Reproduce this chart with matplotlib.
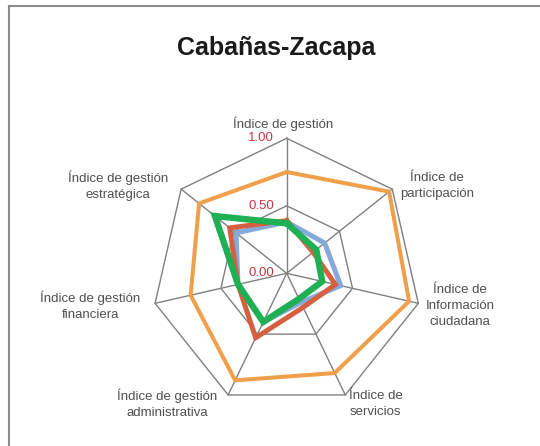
import numpy as np
import matplotlib
matplotlib.use("Agg")
import matplotlib.pyplot as plt
from matplotlib.lines import Line2D

plt.rcParams['font.family'] = ['Liberation Sans', 'DejaVu Sans']

# --- data ---
categories = [
    'Índice de gestión',
    'Índice de\nparticipación',
    'Índice de\nInformación\nciudadana',
    'Índice de\nservicios',
    'Índice de gestión\nadministrativa',
    'Índice de gestión\nfinanciera',
    'Índice de gestión\nestratégica',
]
orange_vals = [0.75, 0.97, 0.93, 0.82, 0.88, 0.73, 0.83]
blue_vals = [0.38, 0.36, 0.41, 0.24, 0.40, 0.37, 0.48]
red_vals = [0.39, 0.25, 0.37, 0.28, 0.53, 0.37, 0.54]
green_vals = [0.37, 0.28, 0.27, 0.21, 0.40, 0.37, 0.68]
ring_levels = [0.0, 0.5, 1.0]
ring_labels = ['0.00', '0.50', '1.00']

# label offsets (points) from each outer vertex
label_offsets = [(-2.7, 10.3), (32, 2.3), (30, -1.9), (22, -6.2),
                 (-44, -6.2), (-46.5, -1.9), (-45.4, 2.3)]

n = len(categories)
# clockwise from the top
angles = np.pi / 2 - 2 * np.pi * np.arange(n) / n


def to_xy(vals):
    v = np.append(vals, vals[0])
    a = np.append(angles, angles[0])
    return v * np.cos(a), v * np.sin(a)


fig = plt.figure(figsize=(5.4, 4.46), dpi=100)
ax = fig.add_axes([0, 0, 1, 1])
ax.set_xlim(-286.7 / 135, (540 - 286.7) / 135)
ax.set_ylim(-(446 - 273.3) / 135, 273.3 / 135)
ax.axis('off')

grid_col = '#808080'
# heptagon rings and spokes
for r in ring_levels[1:]:
    gx, gy = to_xy(np.full(n, r))
    ax.plot(gx, gy, color=grid_col, lw=1.0, zorder=1)
for a in angles:
    ax.plot([0, np.cos(a)], [0, np.sin(a)], color=grid_col, lw=1.0, zorder=1)

# series
series = [
    (orange_vals, '#F0A04B', 2.9),
    (blue_vals, '#84A9DA', 3.6),
    (red_vals, '#D5603F', 3.6),
    (green_vals, '#1FAF55', 4.6),
]
for i, (vals, col, lw) in enumerate(series):
    sx, sy = to_xy(vals)
    ax.plot(sx, sy, color=col, lw=lw, solid_joinstyle='miter', zorder=2 + i)

# radial tick labels along the top spoke
for r, lab in zip(ring_levels, ring_labels):
    ax.annotate(lab, xy=(0, r), xytext=(-9, 0), textcoords='offset points',
                ha='right', va='center', fontsize=9.5, color='#CC3340', zorder=10)

# category labels
for a, lab, off in zip(angles, categories, label_offsets):
    ax.annotate(lab, xy=(np.cos(a), np.sin(a)), xytext=off, textcoords='offset points',
                ha='center', va='center', fontsize=9.5, color='#505050',
                multialignment='center', linespacing=1.45)

fig.text(276 / 540, 1 - 48 / 446, 'Cabañas-Zacapa', ha='center', va='center',
         fontsize=18, fontweight='bold', color='#1a1a1a')

# frame: only top and left edges are visible in the crop
fig.add_artist(Line2D([8.6 / 540, 1], [1 - 6 / 446, 1 - 6 / 446],
                      transform=fig.transFigure, color='#8c8c8c', lw=1.5))
fig.add_artist(Line2D([8.6 / 540, 8.6 / 540], [0, 1 - 6 / 446],
                      transform=fig.transFigure, color='#8c8c8c', lw=1.5))

fig.savefig('out.png', dpi=100)
